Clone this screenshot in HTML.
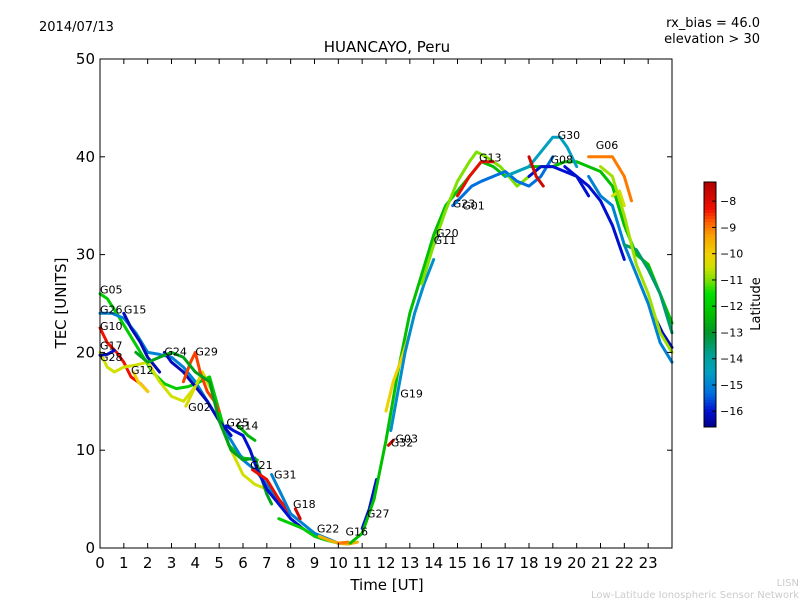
<!DOCTYPE html>
<html><head><meta charset="utf-8"><style>
body{margin:0;background:#fff;}
svg text{font-family:"DejaVu Sans","Liberation Sans",sans-serif;}
</style></head><body>
<svg id="chart" width="800" height="600" xmlns="http://www.w3.org/2000/svg">
<rect width="800" height="600" fill="#fff"/>
<text x="39" y="31" font-size="13">2014/07/13</text>
<text x="760" y="27" font-size="13" text-anchor="end">rx_bias = 46.0</text>
<text x="760" y="43" font-size="13" text-anchor="end">elevation &gt; 30</text>
<text x="387" y="52" font-size="15" text-anchor="middle">HUANCAYO, Peru</text>
<g id="plot"></g>
<g id="axes"></g>
<text x="387" y="590" font-size="15" text-anchor="middle">Time [UT]</text>
<text x="66" y="303" font-size="15" text-anchor="middle" transform="rotate(-90 66 303)">TEC [UNITS]</text>
<g id="cbar"></g>
<text x="760" y="304" font-size="13" text-anchor="middle" transform="rotate(-90 760 304)">Latitude</text>
<text x="799" y="586" font-size="10" fill="#ccc" text-anchor="end">LISN</text>
<text x="799" y="598" font-size="10" fill="#ccc" text-anchor="end">Low-Latitude Ionospheric Sensor Network</text>
</svg>
<script>
const xTicks=[0,1,2,3,4,5,6,7,8,9,10,11,12,13,14,15,16,17,18,19,20,21,22,23];
const yTicks=[0,10,20,30,40,50];
const cbTicks=[-8,-9,-10,-11,-12,-13,-14,-15,-16];
const trackNames=["G05","G26","G15","G10","G17","G28","G12","G24","G29","G02","Gx1","G25","G14","G21","G31","G18","Gx2","G22","G16","G27","Gx3","G32","G03","G19","G20","G23","G01","G13","G30","G08","Gx4","G06","Gx5","Gx6","Gx7","Gx8","Gx9","Gx10"];
const trackLat=[-12,-15,-16.2,-8.3,-10.5,-16,-10,-16.2,-8.6,-10.3,-12.8,-16,-12.5,-8.2,-15,-7.8,-12,-9.5,-9,-16,-12.3,-10,-7.9,-14.8,-16,-11,-15.3,-8.2,-14.5,-16,-7.8,-9,-10.5,-16,-15,-13.5,-16.2,-10.8];
const trackT=[
[0,0.3,0.7,1.2,1.7,2.2,2.7,3.2,3.7,4.2,4.6,5.0,5.4,6.0,6.6],
[0,0.5,1,1.5,2,2.5,3,3.5,4,4.5,5,5.5,6,6.5,7,7.5,8],
[1,1.3,1.7,2,2.5],
[0,0.3,0.7,1,1.3,1.7,2],
[0,0.3,0.6,1,1.5,2,2.5,3,3.5,4,4.3,4.7,5,5.5,6,6.5,7],
[0,0.3,0.6],
[1.4,1.6,1.8,2],
[2.7,3,3.5,4,4.5,5,5.5],
[3.5,3.8,4,4.2,4.5,4.8,5],
[3.6,3.8,4],
[1.5,2,2.5,3,3.5,4,4.3,4.6,5,5.5,6,6.5,7,7.2],
[5.3,5.6,6,6.3,6.6,7,7.5,8,8.5],
[5.8,6,6.2,6.5],
[6.4,6.7,7,7.5,8],
[7.2,7.5,8,8.5,9,9.5,10],
[8.2,8.4],
[7.5,8,8.5,9,9.5,10,10.5],
[9.2,9.6,10,10.4,10.8],
[10,10.4],
[11.0,11.3,11.6],
[10.5,11,11.5,12,12.5,13,13.5,14,14.5,15,15.5,16,16.5,17,17.5,18,18.5,19,19.5,20,20.5,21,21.5,22,22.5,23,23.5,24],
[12,12.3,12.6,13],
[12.1,12.3],
[12.2,12.5,12.8,13.2,13.6,14],
[14,14.2],
[13.5,14,14.5,15,15.5,15.8,16.2,16.8,17.5,18,18.5],
[14.8,15.2,15.6,16,16.5,17,17.5,18,18.5,19],
[15,15.5,16,16.5],
[17,17.5,18,18.5,19,19.3,19.6,20],
[18,18.5,19,19.5,20,20.5],
[18,18.3,18.6],
[20.5,21,21.5,22,22.3],
[21.5,21.8,22],
[19.5,20,20.5,21,21.5,22],
[20.5,21,21.5,22,22.5,23,23.5,24],
[22,22.5,23,23.5,24],
[23.3,23.6,24],
[21,21.5,22,22.5,23,23.5,24]];
const trackTec=[
[26,25.5,24,22,20,18,16.8,16.3,16.5,17,17.5,14,10.5,9.2,9],
[24,24,23.5,22,20,19.8,19.5,18.5,17,15,13,11,9,8,6.5,4.5,3],
[24,22.5,21,19.5,18],
[22.5,21,20,19,17.5,16.8,16],
[20,18.5,18,18.5,18.7,19,17,15.5,15,16.5,18,16,13,10,7.5,6.5,6],
[19.7,19.8,20.2],
[18,17,16.5,16],
[20,19,18,16.5,15,13,11.5],
[17,19,20,18,16,15,14],
[14.5,15.5,16.5],
[20,19,19.5,20,19.5,18,17.5,17,13,10,9,9.2,5.5,4.5],
[12.5,12,11.5,10,8,6,4.5,3,2],
[12.5,12,11.5,11],
[8,7.5,7,5,3.5],
[7.5,6,3.5,2.5,1.5,1,0.5],
[4,3],
[3,2.5,2,1.2,0.8,0.5,0.5],
[1.2,0.8,0.5,0.4,0.6],
[0.5,0.6],
[2,4,7],
[0.5,1.5,5,11,18,24,28,32,35,36.5,38,39.5,39,38,38.5,39,39,39,39.5,39.5,39,38.5,37,33,30,29,26,23],
[14,17,19,22],
[10.5,11],
[12,16,20,24,27,29.5],
[31,32],
[27,31,34.5,37.5,39.5,40.5,40,39,37,38,39],
[35,36,37,37.5,38,38.5,37.5,37,38,40],
[36,38,39.5,39.5],
[38,38.5,39,40.5,42,42,41,39],
[38,39,39,38.5,38,36],
[40,38,37],
[40,40,40,38,35.5],
[36,36.5,35],
[39,38,37,35.5,33,29.5],
[38,36,35,31,28,25,21,19],
[31,30.5,28.5,26,22],
[23.5,22,20.5],
[39,38,34,29,26,22,20]];
const labelText=["G05","G26","G15","G10","G17","G28","G12","G24","G29","G02","G25","G14","G21","G31","G18","G22","G16","G27","G32","G03","G19","G11","G20","G23","G01","G13","G30","G08","G06"];
const labelT=[0,0,1,0,0,0,1.3,2.7,4,3.7,5.3,5.7,6.3,7.3,8.1,9.1,10.3,11.2,12.2,12.4,12.6,14,14.1,14.8,15.2,15.9,19.2,18.9,20.8];
const labelTec=[26,24,24,22.3,20.3,19.1,17.8,19.7,19.7,14,12.4,12.1,8.1,7.1,4.1,1.6,1.3,3.1,10.4,10.8,15.4,31.1,31.8,34.8,34.6,39.5,41.8,39.3,40.8];

const X0=100,X1=672,Y0=548,Y1=59;
const xs=t=>X0+t*(X1-X0)/24, ys=v=>Y0-v*(Y0-Y1)/50;
const LMIN=-16.6,LMAX=-7.27;
const CB_T=182,CB_B=427;
const cbY=l=>CB_B-(l-LMIN)/(LMAX-LMIN)*(CB_B-CB_T);
const stops=[[-16.6,[0,0,138]],[-16,[0,16,208]],[-15.3,[0,112,224]],[-14.5,[0,160,192]],[-13.8,[0,160,144]],[-13,[0,150,40]],[-12.3,[0,192,0]],[-11.5,[0,224,0]],[-11,[128,224,0]],[-10.5,[208,224,0]],[-10,[240,208,0]],[-9.3,[248,160,0]],[-8.8,[255,96,0]],[-8.3,[240,16,0]],[-7.27,[176,0,0]]];
function latColor(l){
 if(l<=stops[0][0])return `rgb(${stops[0][1]})`;
 for(let i=1;i<stops.length;i++){if(l<=stops[i][0]){const a=stops[i-1],b=stops[i],f=(l-a[0])/(b[0]-a[0]);
  return 'rgb('+a[1].map((c,k)=>Math.round(c+(b[1][k]-c)*f)).join(',')+')';}}
 return `rgb(${stops[stops.length-1][1]})`;}
const NS="http://www.w3.org/2000/svg";
function mk(tag,attrs,parent){const e=document.createElementNS(NS,tag);for(const k in attrs)e.setAttribute(k,attrs[k]);parent.appendChild(e);return e;}
const plot=document.getElementById('plot'),axes=document.getElementById('axes'),cbar=document.getElementById('cbar');
mk('rect',{x:X0,y:Y1,width:X1-X0,height:Y0-Y1,fill:'#fff'},plot);
trackT.forEach((ts,i)=>{
 const d=ts.map((t,j)=>(j?'L':'M')+xs(t).toFixed(1)+' '+ys(trackTec[i][j]).toFixed(1)).join(' ');
 const p=mk('path',{d:d,fill:'none',stroke:latColor(trackLat[i]),'stroke-width':3,'stroke-linejoin':'round','stroke-linecap':'round'},plot);
 
 
});
labelText.forEach((s,i)=>{
 const t=mk('text',{x:xs(labelT[i]),y:ys(labelTec[i]),'font-size':11},plot);
 t.textContent=s;
 
 
});
mk('rect',{x:X0,y:Y1,width:X1-X0,height:Y0-Y1,fill:'none',stroke:'#000','stroke-width':1},axes);
xTicks.forEach(v=>{
 const x=xs(v);
 mk('line',{x1:x,x2:x,y1:Y0,y2:Y0-5,stroke:'#000'},axes);
 mk('line',{x1:x,x2:x,y1:Y1,y2:Y1+5,stroke:'#000'},axes);
 const t=mk('text',{x:x,y:Y0+20,'font-size':15,'text-anchor':'middle'},axes);t.textContent=v;
 
 
});
yTicks.forEach(v=>{
 const y=ys(v);
 mk('line',{x1:X0,x2:X0+5,y1:y,y2:y,stroke:'#000'},axes);
 mk('line',{x1:X1,x2:X1-5,y1:y,y2:y,stroke:'#000'},axes);
 const t=mk('text',{x:X0-5,y:y+5,'font-size':15,'text-anchor':'end'},axes);t.textContent=v;
 
 
});
const N=80;
for(let k=0;k<N;k++){
 const l=LMIN+(k+0.5)/N*(LMAX-LMIN);
 const yb=CB_B-k/N*(CB_B-CB_T),yt=CB_B-(k+1)/N*(CB_B-CB_T);
 mk('rect',{x:704,y:yt-0.3,width:12,height:yb-yt+0.6,fill:latColor(l)},cbar);
}
mk('rect',{x:704,y:CB_T,width:12,height:CB_B-CB_T,fill:'none',stroke:'#000'},cbar);
cbTicks.forEach(v=>{
 const y=cbY(v);
 mk('line',{x1:712,x2:716,y1:y,y2:y,stroke:'#000'},cbar);
 const t=mk('text',{x:720,y:y+4,'font-size':11},cbar);t.textContent='\u2212'+Math.abs(v);
 
 
});
</script>
</body></html>
